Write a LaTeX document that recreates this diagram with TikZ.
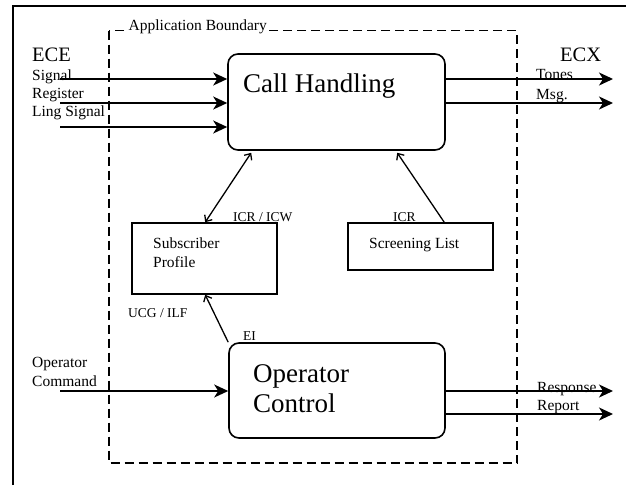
\documentclass[tikz,border=0pt]{standalone}
\usepackage{fontspec}
\setmainfont{Liberation Serif}
\usetikzlibrary{arrows.meta}

\tikzset{
  box/.style={draw, line width=1.6pt, rounded corners=10pt, inner sep=0pt},
  store/.style={draw, line width=1.6pt, inner sep=0pt},
  flow/.style={line width=1.6pt, -{Stealth[length=14pt,width=13pt,inset=4pt]}},
  link/.style={line width=1.3pt},
  bigtext/.style={font=\fontsize{27}{30}\selectfont, align=left, inner sep=0pt, anchor=base west},
  midtext/.style={font=\fontsize{20.5}{24}\selectfont, inner sep=0pt, anchor=base west},
  iotext/.style={font=\fontsize{15.5}{19}\selectfont, align=left, inner sep=0pt, anchor=base west},
  tagtext/.style={font=\fontsize{13.5}{16}\selectfont, inner sep=0pt, anchor=base west},
  >={Straight Barb[length=5pt,width=9pt]}
}

\begin{document}
\begin{tikzpicture}[x=1pt, y=-1pt]
  \useasboundingbox (0,0) rectangle (626,485);
  \def\xin{60}  % start of incoming arrows
  \def\xout{613} % end of outgoing arrows

  % frame and application boundary
  \draw[line width=1.8pt] (13,485) -- (13,6) -- (626,6);
  \draw[line width=1.6pt, dash pattern=on 9pt off 5pt] (109,30.5) rectangle (517,463);
  \node[iotext, fill=white, inner sep=0.5pt] (applabel) at (128,30.5) {Application Boundary};

  % processes and stores
  \node[box, minimum width=217pt, minimum height=96pt] (ch) at (336.5,102) {};
  \node[box, minimum width=216pt, minimum height=95pt] (oc) at (337,390.5) {};
  \node[store, minimum width=145pt, minimum height=71pt] (sp) at (204.5,258.5) {};
  \node[store, minimum width=145pt, minimum height=47pt] (sl) at (420.5,246.5) {};

  % base of a two-line text is its last line
  \node[bigtext] (chtext) at (243,92) {Call Handling};
  \node[bigtext] (octext) at (253,412) {Operator\\Control};
  \node[iotext] (sptext) at (153,267) {Subscriber\\Profile};
  \node[iotext] (sltext) at (369,248) {Screening List};

  % external entities
  \node[midtext] (ece) at (32,61) {ECE};
  \node[midtext] (ecx) at (560,61) {ECX};
  \node[iotext] (sig) at (32,80) {Signal};
  \node[iotext] (reg) at (32,98) {Register};
  \node[iotext] (ling) at (32,116) {Ling Signal};
  \node[iotext] (tones) at (536,79) {Tones};
  \node[iotext] (msg) at (536,99) {Msg.};
  \node[iotext] (opcmd) at (32,386) {Operator\\Command};
  \node[iotext] (resp) at (537,392) {Response};
  \node[iotext] (rep) at (537,410) {Report};

  % flow tags
  \node[tagtext] (icrw) at (233,221) {ICR / ICW};
  \node[tagtext] (icr) at (393,221) {ICR};
  \node[tagtext] (ucg) at (128,317) {UCG / ILF};
  \node[tagtext] (ei) at (243,340) {EI};

  % incoming and outgoing flows
  \coordinate (in1) at (\xin,79);
  \coordinate (in2) at (\xin,103);
  \coordinate (in3) at (\xin,127);
  \coordinate (in4) at (\xin,391);
  \coordinate (out1) at (\xout,79);
  \coordinate (out2) at (\xout,103);
  \coordinate (out3) at (\xout,391);
  \coordinate (out4) at (\xout,414);

  \draw[flow] (in1) -- (in1 -| ch.west);
  \draw[flow] (in2) -- (in2 -| ch.west);
  \draw[flow] (in3) -- (in3 -| ch.west);
  \draw[flow] (in4) -- (in4 -| oc.west);
  \draw[flow] (out1 -| ch.east) -- (out1);
  \draw[flow] (out2 -| ch.east) -- (out2);
  \draw[flow] (out3 -| oc.east) -- (out3);
  \draw[flow] (out4 -| oc.east) -- (out4);

  % data between boxes
  \draw[link, <->] ([xshift=24pt,yshift=-2pt]ch.south west) -- ([xshift=74pt]sp.north west);
  \draw[link, ->] ([xshift=97pt]sl.north west) -- ([xshift=170pt,yshift=-2pt]ch.south west);
  \draw[link, ->] (oc.north west) -- ([xshift=74pt]sp.south west);
\end{tikzpicture}
\end{document}
